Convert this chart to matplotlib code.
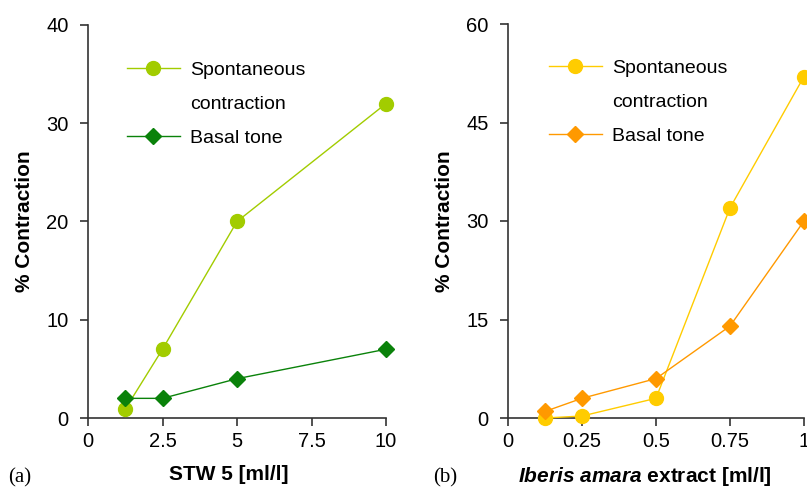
import matplotlib
matplotlib.use("Agg")
import matplotlib.pyplot as plt
from matplotlib.lines import Line2D

plt.rcParams['font.family'] = ['Liberation Sans', 'DejaVu Sans']
plt.rcParams['mathtext.fontset'] = 'custom'
plt.rcParams['mathtext.rm'] = 'Liberation Sans'
plt.rcParams['mathtext.bf'] = 'Liberation Sans:bold'
plt.rcParams['mathtext.it'] = 'Liberation Sans:italic'
plt.rcParams['mathtext.bfit'] = 'Liberation Sans:bold:italic'

# Panel (a) data
stw_x = [1.25, 2.5, 5, 10]
stw_spont = [0.9, 7, 20, 32]
stw_basal = [2, 2, 4, 7]
stw_xticks = [0, 2.5, 5, 7.5, 10]
stw_xticklabels = ['0', '2.5', '5', '7.5', '10']
stw_yticks = [0, 10, 20, 30, 40]

# Panel (b) data
ib_x = [0.125, 0.25, 0.5, 0.75, 1.0]
ib_spont = [0, 0.3, 3, 32, 52]
ib_basal = [1, 3, 6, 14, 30]
ib_xticks = [0, 0.25, 0.5, 0.75, 1]
ib_xticklabels = ['0', '0.25', '0.5', '0.75', '1']
ib_yticks = [0, 15, 30, 45, 60]

labels = ['Spontaneous', 'contraction', 'Basal tone']

W, H = 807, 487
fig = plt.figure(figsize=(W/100, H/100), dpi=100)

axA = fig.add_axes([88/W, 1-418/H, (386-88)/W, (418-25)/H])
axB = fig.add_axes([508/W, 1-418/H, (804-508)/W, (418-24)/H])

def style(ax, xticks, xtl, yticks, ylim, xlim):
    for s in ['top', 'right']:
        ax.spines[s].set_visible(False)
    for s in ['left', 'bottom']:
        ax.spines[s].set_color('#333333')
        ax.spines[s].set_linewidth(1.2)
    ax.set_xlim(*xlim)
    ax.set_ylim(*ylim)
    ax.set_xticks(xticks)
    ax.set_xticklabels(xtl)
    ax.set_yticks(yticks)
    ax.tick_params(direction='out', length=6, width=1.2, color='#333333',
                   labelsize=14.5)
    ax.tick_params(axis='x', pad=4)
    ax.tick_params(axis='y', pad=8)
    ax.set_ylabel('% Contraction', fontsize=15, fontweight='bold', labelpad=9)

def legend(ax, h1, h2, x0, y0):
    blank = Line2D([], [], color='none')
    ax.legend([h1, blank, h2], labels, loc='upper left',
              bbox_to_anchor=(x0/W, 1-y0/H), bbox_transform=fig.transFigure,
              frameon=False, fontsize=14, handlelength=2.7, handletextpad=0.55,
              labelspacing=0.85, borderpad=0, borderaxespad=0)

# Panel A
c1, c2 = '#a2cc00', '#0a820a'
l1, = axA.plot(stw_x, stw_spont, '-o', color=c1, lw=1, ms=10, clip_on=False, zorder=3)
l2, = axA.plot(stw_x, stw_basal, '-D', color=c2, lw=1, ms=8, clip_on=False, zorder=4)
style(axA, stw_xticks, stw_xticklabels, stw_yticks, (0, 40), (0, 10))
axA.set_xlabel('STW 5 [ml/l]', fontsize=15, fontweight='bold', labelpad=10)
axA.xaxis.label.set_x(0.471)
legend(axA, l1, l2, 127, 61)

# Panel B
c3, c4 = '#ffcc00', '#ff9900'
l3, = axB.plot(ib_x, ib_spont, '-o', color=c3, lw=1, ms=10, clip_on=False, zorder=3)
l4, = axB.plot(ib_x, ib_basal, '-D', color=c4, lw=1, ms=8, clip_on=False, zorder=4)
style(axB, ib_xticks, ib_xticklabels, ib_yticks, (0, 60), (0, 1))
axB.set_xlabel(r'$\mathbfit{Iberis\ amara}$ extract [ml/l]', fontsize=15, fontweight='bold', labelpad=10)
axB.xaxis.label.set_x(0.463)
legend(axB, l3, l4, 549, 59)

fig.text(8/W, 1-482/H, '(a)', family='Liberation Serif', fontsize=15)
fig.text(433/W, 1-482/H, '(b)', family='Liberation Serif', fontsize=15)

fig.savefig('out.png', dpi=100)
